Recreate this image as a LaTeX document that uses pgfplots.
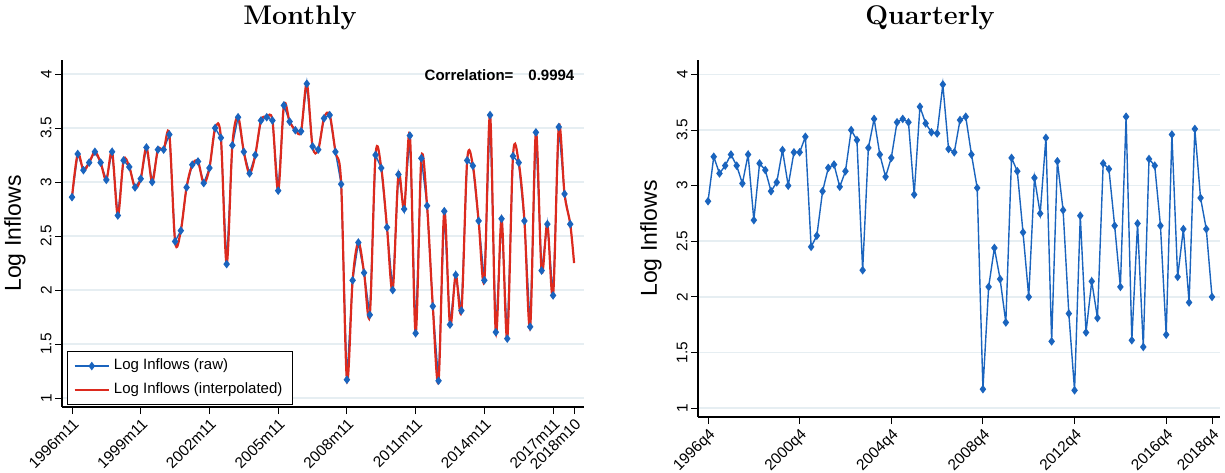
\documentclass[border=0pt]{standalone}
\usepackage{fontspec}
\setsansfont{Liberation Sans}
\usepackage{pgfplots}
\usepackage{pgfplotstable}
\pgfplotsset{compat=1.18}
\definecolor{sblue}{HTML}{1A64BE}
\definecolor{sred}{HTML}{DC2A1E}
\definecolor{grd}{HTML}{E6EEF2}
\pgfplotstableread{
i v r
0 2.86 2.86
1 3.26 3.26
2 3.11 3.11
3 3.18 3.18
4 3.28 3.28
5 3.18 3.18
6 3.02 3.02
7 3.28 3.28
8 2.69 2.69
9 3.20 3.20
10 3.14 3.14
11 2.95 2.95
12 3.03 3.03
13 3.32 3.32
14 3.00 3.00
15 3.30 3.30
16 3.30 3.30
17 3.44 3.44
18 2.45 2.45
19 2.55 2.55
20 2.95 2.95
21 3.16 3.16
22 3.19 3.19
23 2.99 2.99
24 3.13 3.13
25 3.50 3.50
26 3.41 3.41
27 2.24 2.24
28 3.34 3.34
29 3.60 3.60
30 3.28 3.28
31 3.08 3.08
32 3.25 3.25
33 3.57 3.57
34 3.60 3.60
35 3.57 3.57
36 2.92 2.92
37 3.71 3.71
38 3.56 3.56
39 3.48 3.48
40 3.47 3.47
41 3.91 3.91
42 3.33 3.33
43 3.30 3.30
44 3.59 3.59
45 3.62 3.62
46 3.28 3.28
47 2.98 2.98
48 1.17 1.17
49 2.09 2.09
50 2.44 2.44
51 2.16 2.16
52 1.77 1.77
53 3.25 3.25
54 3.13 3.13
55 2.58 2.58
56 2.00 2.00
57 3.07 3.07
58 2.75 2.75
59 3.43 3.43
60 1.60 1.60
61 3.22 3.22
62 2.78 2.78
63 1.85 1.85
64 1.16 1.16
65 2.73 2.73
66 1.68 1.68
67 2.14 2.14
68 1.81 1.81
69 3.20 3.20
70 3.15 3.15
71 2.64 2.64
72 2.09 2.09
73 3.62 3.62
74 1.61 1.61
75 2.66 2.66
76 1.55 1.55
77 3.24 3.24
78 3.18 3.18
79 2.64 2.64
80 1.66 1.66
81 3.46 3.46
82 2.18 2.18
83 2.61 2.61
84 1.95 1.95
85 3.51 3.51
86 2.89 2.89
87 2.61 2.61
88 2.00 2.25
}\data
\pgfplotsset{
  every axis/.append style={
    scale only axis,
    axis lines*=left,
    axis line style={black, line width=0.6pt},
    ymajorgrids,
    grid style={grd, line width=0.8pt},
    ytick={1,1.5,...,4},
    yticklabels={1,1.5,2,2.5,3,3.5,4},
    tick style={black, line width=0.5pt},
    major tick length=3.5pt,
    tick align=outside,
    ticklabel style={font=\sffamily\fontsize{7.7}{9}\selectfont},
    yticklabel style={rotate=90, anchor=south, inner sep=1.5pt},
    ylabel={\sffamily\fontsize{11.5}{12}\selectfont Log Inflows},
    every axis y label/.style={at={(rel axis cs:0,0.5)}, rotate=90, anchor=center, yshift=23.5pt},
    xticklabel style={rotate=45, anchor=north east, inner sep=1pt},
    /pgf/number format/assume math mode=true,
  }
}
\begin{document}
\begin{tikzpicture}
\useasboundingbox (0,0) rectangle (612.5pt,236pt);
\node[font=\bfseries\fontsize{13.5}{14}\selectfont] at (150pt,227pt) {Monthly};
\node[font=\bfseries\fontsize{13.5}{14}\selectfont] at (465pt,227pt) {Quarterly};
\begin{axis}[at={(31pt,32.5pt)}, anchor=south west,
  width=261pt, height=173.5pt,
  xmin=-5.24, xmax=268.2, ymin=0.917, ymax=4.13,
  xtick={0,36,72,108,144,180,216,252,263},
  xticklabels={1996m11,1999m11,2002m11,2005m11,2008m11,2011m11,2014m11,2017m11,2018m10},
  legend style={at={(0.01,0.005)}, anchor=south west, draw=black, font=\sffamily\fontsize{7.5}{9}\selectfont, row sep=1pt, legend cell align=left},
]
\addplot[sblue, line width=0.7pt, mark=diamond*, mark size=1.6pt, skip coords between index={88}{89}] table[x expr=\thisrow{i}*3, y=v] {\data};
\addlegendentry{Log Inflows (raw)}
\addplot[sred, line width=1.1pt, smooth, tension=0.55] table[x expr={min(\thisrow{i}*3,263)}, y=r] {\data};
\addlegendentry{Log Inflows (interpolated)}
\node[anchor=east, font=\sffamily\bfseries\fontsize{7.5}{9}\selectfont] at (rel axis cs:0.995,0.955) {Correlation=\quad 0.9994};
\end{axis}
\begin{axis}[at={(349pt,27.5pt)}, anchor=south west,
  width=261pt, height=178.5pt,
  xmin=-1.75, xmax=89.4, ymin=0.92, ymax=4.13,
  xtick={0,16,32,48,64,80,88},
  xticklabels={1996q4,2000q4,2004q4,2008q4,2012q4,2016q4,2018q4},
]
\addplot[sblue, line width=0.7pt, mark=diamond*, mark size=1.6pt] table[x=i, y=v] {\data};
\end{axis}
\end{tikzpicture}
\end{document}
